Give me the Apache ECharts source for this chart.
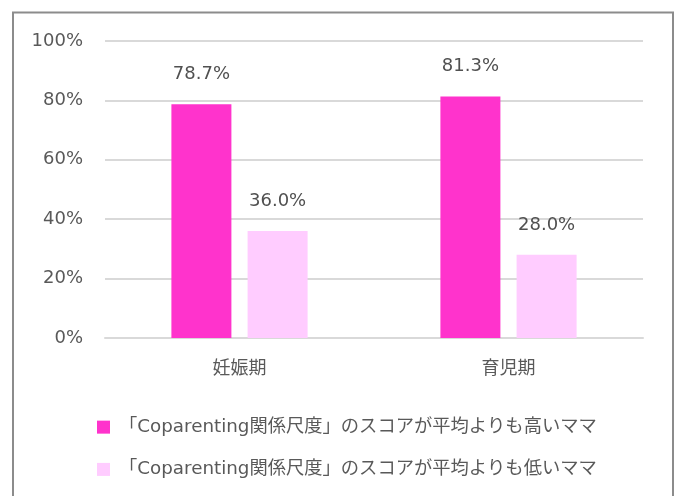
<!DOCTYPE html>
<html>
<head>
<meta charset="utf-8">
<script src="https://cdn.jsdelivr.net/npm/echarts@6/dist/echarts.min.js"></script>
<style>
  html, body { margin: 0; padding: 0; background: #fff; }
  #chart { width: 681px; height: 496px; }
</style>
</head>
<body>
<div id="chart"></div>
<script>
// Periods compared on the x axis
const categories = ['妊娠期', '育児期'];
// Share of mothers (%) by Coparenting score group
const highScoreMoms = [78.7, 81.3];
const lowScoreMoms = [36.0, 28.0];
const seriesNames = [
  '「Coparenting関係尺度」のスコアが平均よりも高いママ',
  '「Coparenting関係尺度」のスコアが平均よりも低いママ'
];
const yTicks = [0, 20, 40, 60, 80, 100];

const FONT = '"DejaVu Sans", "Noto Sans CJK JP", sans-serif';
const TEXT = '#595959';

const chart = echarts.init(document.getElementById('chart'), null, { renderer: 'canvas' });

const labelStyle = {
  show: true,
  position: 'top',
  distance: 21,
  color: '#505050',
  fontFamily: FONT,
  fontSize: 18,
  formatter: p => p.value.toFixed(1) + '%'
};

chart.setOption({
  animation: false,
  backgroundColor: '#fff',
  graphic: [{
    type: 'rect',
    shape: { x: 13, y: 12.5, width: 660, height: 500 },
    style: { fill: 'none', stroke: '#8c8c8c', lineWidth: 2 },
    silent: true
  }],
  grid: { left: 105, right: 38, top: 41, bottom: 158 },
  legend: {
    orient: 'vertical',
    left: 97,
    top: 418,
    padding: 0,
    itemWidth: 13,
    itemHeight: 13,
    itemGap: 24,
    icon: 'rect',
    textStyle: { color: TEXT, fontFamily: FONT, fontSize: 18.3, padding: [0, 0, 0, 4] },
    data: seriesNames
  },
  xAxis: {
    type: 'category',
    data: categories,
    axisTick: { show: false },
    axisLine: { lineStyle: { color: '#d9d9d9', width: 2 } },
    axisLabel: { color: TEXT, fontFamily: FONT, fontSize: 18, margin: 22 }
  },
  yAxis: {
    type: 'value',
    min: yTicks[0],
    max: yTicks[yTicks.length - 1],
    interval: 20,
    axisLine: { show: false },
    axisTick: { show: false },
    splitLine: { lineStyle: { color: '#d9d9d9', width: 2 } },
    axisLabel: { color: TEXT, fontFamily: FONT, fontSize: 18, margin: 22, formatter: v => v + '%' }
  },
  series: [
    {
      name: seriesNames[0],
      type: 'bar',
      data: highScoreMoms,
      barWidth: 60,
      barGap: '27%',
      itemStyle: { color: '#ff33cc' },
      label: labelStyle
    },
    {
      name: seriesNames[1],
      type: 'bar',
      data: lowScoreMoms,
      barWidth: 60,
      itemStyle: { color: '#ffccff' },
      label: labelStyle
    }
  ]
});
</script>
</body>
</html>
